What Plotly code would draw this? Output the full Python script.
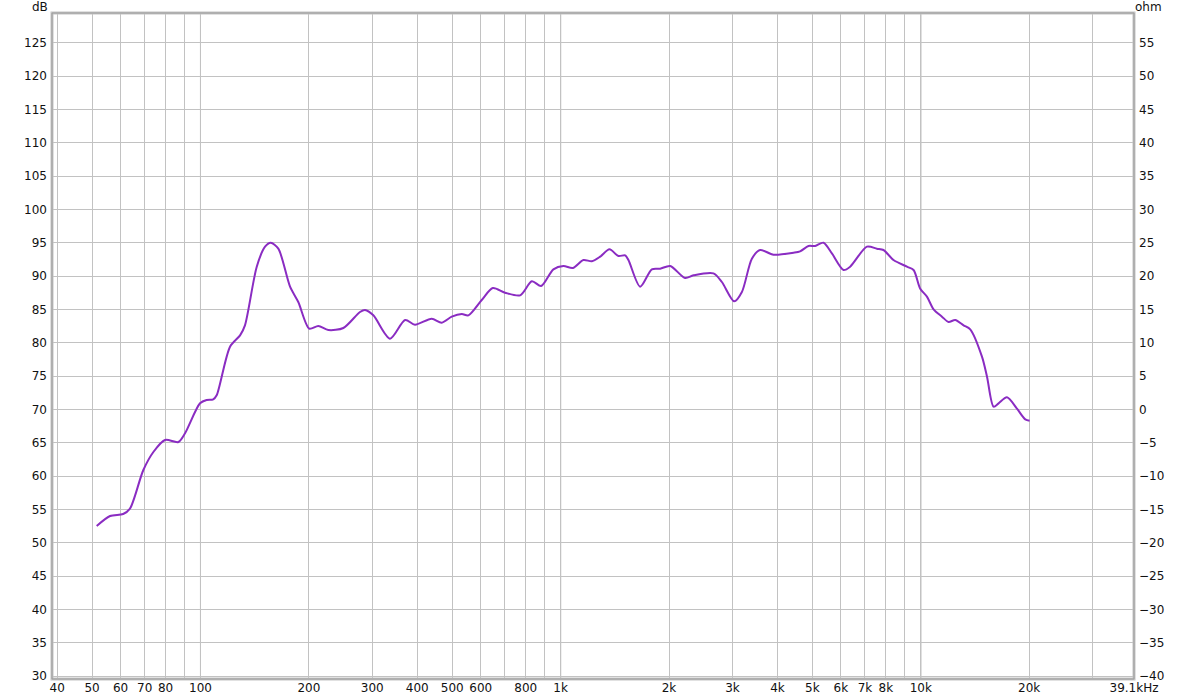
import plotly.graph_objects as go
import math

freq_hz = [51.5, 56.1, 61.0, 63.7, 69.4, 74.0, 79.7, 86.8, 90.6, 99.7, 104, 108.5, 110.9,
           120.8, 128.8, 132.9, 143.3, 151.1, 156.7, 164.5, 177.3, 186.9, 200.5, 212.4,
           226.5, 249.3, 277.3, 286.4, 302, 336, 370, 394, 438.5, 467.7, 498.6, 531.6,
           554.6, 604, 648, 701, 772, 832, 883, 955, 1018, 1081, 1157, 1221, 1288, 1367,
           1447, 1511, 1543, 1663, 1792, 1890, 2015, 2217, 2339, 2657, 2804, 3034, 3187,
           3397, 3581, 3900, 4434, 4624, 4878, 5090, 5370, 5666, 6105, 6368, 7089, 7555,
           7882, 8402, 9156, 9551, 9968, 10404, 10855, 11454, 11946, 12468, 13150, 13722,
           14792, 15276, 15932, 16450, 17357, 18503, 19510, 20058]
spl_db = [52.5, 54.0, 54.3, 55.1, 60.9, 63.6, 65.4, 65.1, 66.4, 70.9, 71.4, 71.5, 72.1,
          79.4, 81.1, 82.6, 91.4, 94.4, 95.0, 94.1, 88.4, 86.1, 82.1, 82.5,
          81.9, 82.2, 84.6, 84.9, 84.1, 80.6, 83.4, 82.7, 83.6, 83.0, 83.9, 84.3,
          84.1, 86.4, 88.2, 87.5, 87.1, 89.2, 88.5, 91.0, 91.5, 91.2, 92.4, 92.2, 92.9, 94.0,
          93.0, 93.1, 92.4, 88.4, 91.0, 91.1, 91.5, 89.7, 90.1, 90.4, 89.1, 86.2, 87.6,
          92.6, 93.9, 93.2, 93.5, 93.7, 94.5, 94.5, 95.0, 93.4, 90.9, 91.4, 94.4, 94.1,
          93.9, 92.4, 91.4, 90.9, 88.1, 86.9, 85.0, 83.9, 83.1, 83.4, 82.6, 82.0,
          77.9, 74.9, 70.4, 70.9, 71.8, 70.1, 68.5, 68.3]

x_grid = [40, 50, 60, 70, 80, 90, 100, 200, 300, 400, 500, 600, 700, 800, 900,
          1000, 2000, 3000, 4000, 5000, 6000, 7000, 8000, 9000, 10000, 20000, 30000, 39100]
x_labels = ["40", "50", "60", "70", "80", "", "100", "200", "300", "400", "500", "600", "",
            "800", "", "1k", "2k", "3k", "4k", "5k", "6k", "7k", "8k", "", "10k", "20k", "",
            "39.1kHz"]
decades = [100, 1000, 10000]
db_ticks = list(range(30, 130, 5))
ohm_ticks = list(range(-40, 60, 5))

X_MIN, X_MAX = 38.7, 39100
Y_MIN, Y_MAX = 29.55, 129.45
OHM_OFFSET = 70

font = dict(family="DejaVu Sans, Lucida Grande, sans-serif", size=12, color="#111111")

fig = go.Figure()
fig.add_trace(go.Scatter(x=freq_hz, y=spl_db, mode="lines",
                         line=dict(color="#8a2cc2", width=2, shape="spline", smoothing=0.8),
                         hoverinfo="x+y", showlegend=False))
# invisible trace for right axis
fig.add_trace(go.Scatter(x=[X_MIN], y=[Y_MIN - OHM_OFFSET], yaxis="y2", mode="markers",
                         marker=dict(opacity=0), showlegend=False, hoverinfo="skip"))

shapes = []
for d in decades:
    shapes.append(dict(type="line", xref="x", yref="paper", x0=d, x1=d, y0=0, y1=1,
                       line=dict(color="#7a7a7a", width=1), layer="below"))
# frame with slight shadow
shapes.append(dict(type="rect", xref="paper", yref="paper", x0=0, x1=1, y0=0, y1=1,
                   line=dict(color="#c4c4c4", width=3), layer="above"))
shapes.append(dict(type="rect", xref="paper", yref="paper", x0=0, x1=1, y0=0, y1=1,
                   line=dict(color="#9a9a9a", width=1), layer="above"))

H = 666
fig.update_layout(
    template="none",
    width=1200, height=700,
    margin=dict(l=52, r=66, t=13, b=21, autoexpand=False),
    paper_bgcolor="white", plot_bgcolor="white",
    font=font,
    shapes=shapes,
    xaxis=dict(type="log", range=[math.log10(X_MIN), math.log10(X_MAX)],
               tickmode="array", tickvals=x_grid, ticktext=x_labels, automargin=False,
               showgrid=True, gridcolor="#c2c2c2", gridwidth=1,
               ticks="", zeroline=False, showline=False, tickfont=font,
               ticklabelstandoff=0),
    yaxis=dict(range=[Y_MIN, Y_MAX], tickmode="array", tickvals=db_ticks, automargin=False,
               showgrid=True, gridcolor="#c2c2c2", gridwidth=1,
               ticks="", zeroline=False, showline=False, tickfont=font,
               ticklabelstandoff=4),
    yaxis2=dict(range=[Y_MIN - OHM_OFFSET, Y_MAX - OHM_OFFSET], overlaying="y", side="right",
                tickmode="array", tickvals=ohm_ticks, showgrid=False, zeroline=False,
                automargin=False,
                ticks="", showline=False, tickfont=font, ticklabelstandoff=4),
    annotations=[
        dict(text="dB", xref="paper", yref="paper", x=-12 / 1082, y=1 + 6 / H,
             xanchor="center", yanchor="middle", showarrow=False, font=font),
        dict(text="ohm", xref="paper", yref="paper", x=1 + 14 / 1082, y=1 + 6 / H,
             xanchor="center", yanchor="middle", showarrow=False, font=font),
    ],
)

fig.write_html("out.html", config={"displayModeBar": False},
               post_script="document.body.style.margin='0';document.body.style.padding='0';")
